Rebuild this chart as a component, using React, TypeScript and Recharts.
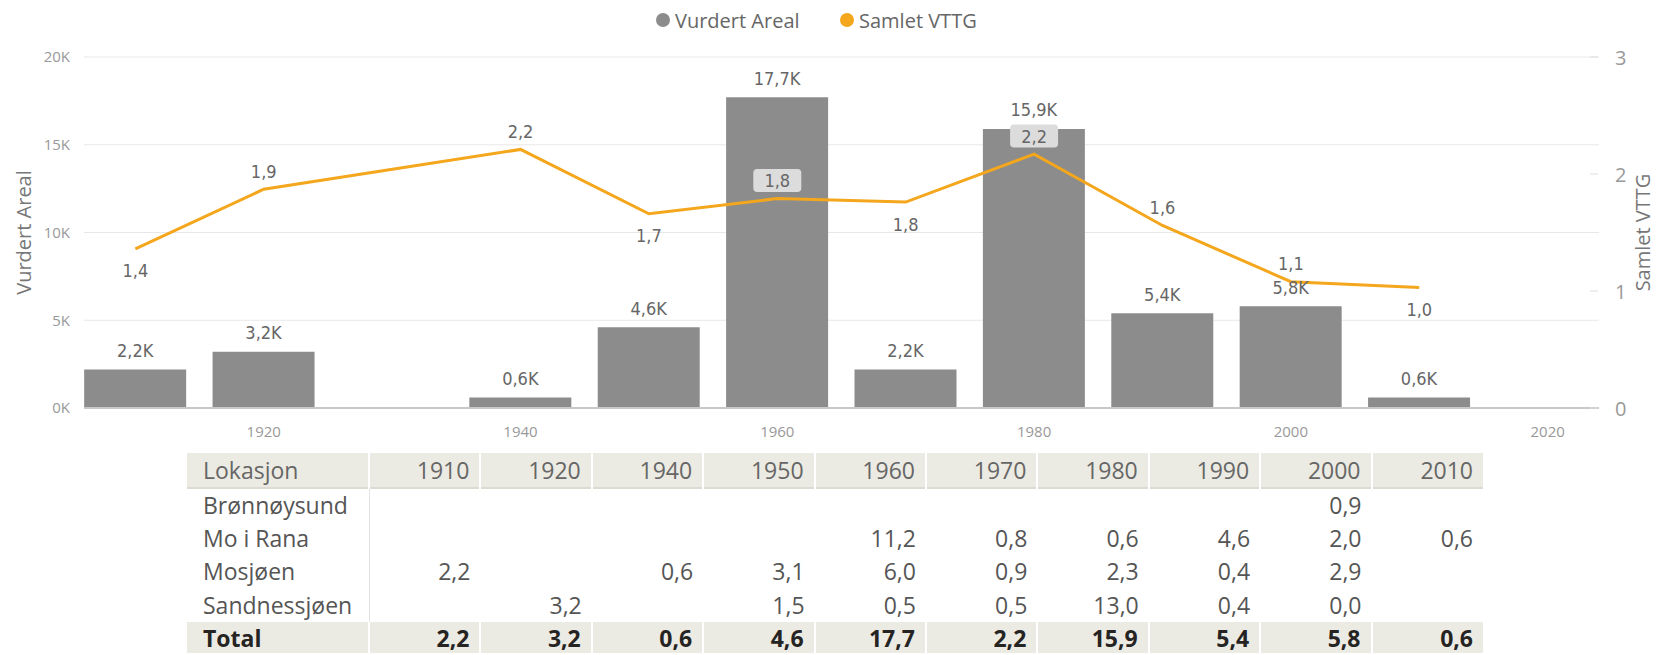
// Vurdert Areal / Samlet VTTG per byggeår – combo chart with matrix below.
import { ComposedChart, Bar, Line, XAxis, YAxis, CartesianGrid, LabelList } from "recharts";

// ── Data ────────────────────────────────────────────────────────────────────

const YEARS = [1910, 1920, 1940, 1950, 1960, 1970, 1980, 1990, 2000, 2010];
const VURDERT_AREAL = [2200, 3200, 600, 4600, 17700, 2200, 15900, 5400, 5800, 600];
const SAMLET_VTTG = [1.36, 1.87, 2.21, 1.66, 1.79, 1.76, 2.17, 1.56, 1.08, 1.03];

const X_TICKS = [1920, 1940, 1960, 1980, 2000, 2020];
const LEFT_TICKS = [0, 5000, 10000, 15000, 20000];
const RIGHT_TICKS = [0, 1, 2, 3];

const LOCATIONS = ["Brønnøysund", "Mo i Rana", "Mosjøen", "Sandnessjøen"];
const BRONNOYSUND = [null, null, null, null, null, null, null, null, 0.9, null];
const MO_I_RANA = [null, null, null, null, 11.2, 0.8, 0.6, 4.6, 2.0, 0.6];
const MOSJOEN = [2.2, null, 0.6, 3.1, 6.0, 0.9, 2.3, 0.4, 2.9, null];
const SANDNESSJOEN = [null, 3.2, null, 1.5, 0.5, 0.5, 13.0, 0.4, 0.0, null];
const TOTALS = [2.2, 3.2, 0.6, 4.6, 17.7, 2.2, 15.9, 5.4, 5.8, 0.6];
const ROWS = [BRONNOYSUND, MO_I_RANA, MOSJOEN, SANDNESSJOEN];

const chartData = YEARS.map((year, i) => ({
  year,
  areal: VURDERT_AREAL[i],
  vttg: SAMLET_VTTG[i],
}));

// ── Styling ─────────────────────────────────────────────────────────────────

const BAR_COLOR = "#8c8c8c";
const LINE_COLOR = "#f4a61d";
const UI_FONT = "'Open Sans', sans-serif";
const LABEL_FONT = "'DejaVu Sans Condensed', 'DejaVu Sans', sans-serif";

const comma = (v: number) => v.toFixed(1).replace(".", ",");

// Power BI places some line labels under the point and boxes those over bars
const LABEL_BELOW = new Set([1910, 1950, 1970, 2010]);
const LABEL_BOXED = new Set([1960, 1980]);

function BarValueLabel(props: any) {
  const { x, y, width, value } = props;
  return (
    <text
      x={x + width / 2} y={y - 19} textAnchor="middle" dominantBaseline="central"
      fontFamily={LABEL_FONT} fontSize={18} fill="#666"
    >
      {comma(value / 1000)}K
    </text>
  );
}

function LineValueLabel(props: any) {
  const { x, y, value, index } = props;
  const year = YEARS[index];
  const cy = LABEL_BELOW.has(year) ? y + 22 : y - 18;
  return (
    <g>
      {LABEL_BOXED.has(year) && (
        <rect x={x - 24} y={cy - 11.5} width={48} height={23} rx={4} fill="#dcdcdc" />
      )}
      <text
        x={x} y={cy} textAnchor="middle" dominantBaseline="central"
        fontFamily={LABEL_FONT} fontSize={18} fill="#666"
      >
        {comma(value)}
      </text>
    </g>
  );
}

function RightTick(props: any) {
  const { x, y, payload } = props;
  return (
    <g>
      <line x1={x - 25} x2={x - 17} y1={y} y2={y} stroke="#dedede" />
      <text x={x} y={y} dominantBaseline="central" fontFamily={UI_FONT} fontSize={20} fill="#999">
        {payload.value}
      </text>
    </g>
  );
}

// ── Legend ──────────────────────────────────────────────────────────────────

function LegendItem({ left, color, text }: { left: number; color: string; text: string }) {
  return (
    <div style={{ position: "absolute", left, top: 6, display: "flex", alignItems: "center", height: 28 }}>
      <span style={{ width: 14, height: 14, borderRadius: 7, background: color, marginRight: 5 }} />
      <span style={{ fontFamily: UI_FONT, fontSize: 20, color: "#666" }}>{text}</span>
    </div>
  );
}

// ── Matrix table ────────────────────────────────────────────────────────────

const HEAD_BG = "#ecebe3";
const cellBase: React.CSSProperties = {
  padding: "0 10px 0 0",
  textAlign: "right",
  whiteSpace: "nowrap",
  lineHeight: 1,
};

function Matrix() {
  return (
    <table
      style={{
        position: "absolute", left: 187, top: 453, width: 1296,
        borderCollapse: "collapse", tableLayout: "fixed",
        fontFamily: UI_FONT, fontSize: 23,
      }}
    >
      <colgroup>
        <col style={{ width: 182 }} />
        {YEARS.map(y => <col key={y} style={{ width: 111.4 }} />)}
      </colgroup>
      <thead>
        <tr style={{ height: 35, background: HEAD_BG, color: "#666", borderBottom: "2px solid #dcdad2" }}>
          <th style={{ ...cellBase, textAlign: "left", paddingLeft: 16, fontWeight: 400 }}>Lokasjon</th>
          {YEARS.map(y => (
            <th key={y} style={{ ...cellBase, fontWeight: 400, borderLeft: "2px solid #fff" }}>{y}</th>
          ))}
        </tr>
      </thead>
      <tbody>
        {LOCATIONS.map((loc, r) => (
          <tr key={loc} style={{ height: 33.5, color: "#555" }}>
            <td style={{ ...cellBase, textAlign: "left", paddingLeft: 16, borderRight: "1px solid #e2e2e2" }}>{loc}</td>
            {ROWS[r].map((v, i) => (
              <td key={i} style={cellBase}>{v == null ? "" : comma(v)}</td>
            ))}
          </tr>
        ))}
        <tr style={{ height: 31, background: HEAD_BG, color: "#252423", fontWeight: 700 }}>
          <td style={{ ...cellBase, textAlign: "left", paddingLeft: 16, paddingTop: 2 }}>Total</td>
          {TOTALS.map((v, i) => (
            <td key={i} style={{ ...cellBase, borderLeft: "2px solid #fff", paddingTop: 2 }}>{comma(v)}</td>
          ))}
        </tr>
      </tbody>
    </table>
  );
}

// ── App ─────────────────────────────────────────────────────────────────────

export default function App() {
  return (
    <div style={{ position: "relative", width: 1661, height: 655, overflow: "hidden", background: "#fff" }}>
      <style>{`body{margin:0}`}</style>
      <LegendItem left={656} color={BAR_COLOR} text="Vurdert Areal" />
      <LegendItem left={840} color={LINE_COLOR} text="Samlet VTTG" />
      <div style={{ position: "absolute", left: 0, top: 0 }}>
        <ComposedChart width={1661} height={450} data={chartData} margin={{ top: 57, right: 0, left: 0, bottom: 12 }}>
          <CartesianGrid vertical={false} stroke="#e8e8e8" />
          <XAxis
            dataKey="year" type="number" domain={[1906, 2024]} ticks={X_TICKS} allowDataOverflow
            height={30} tickLine={false} tickSize={0} tickMargin={18}
            axisLine={{ stroke: "#c8c8c8", strokeWidth: 2 }}
            tick={{ fontFamily: UI_FONT, fontSize: 15, fill: "#999" }}
          />
          <YAxis
            domain={[0, 20000]} ticks={LEFT_TICKS} width={84}
            axisLine={false} tickLine={false} tickSize={6} tickMargin={8}
            tickFormatter={(v: number) => `${v / 1000}K`}
            tick={{ fontFamily: UI_FONT, fontSize: 15, fill: "#999" }}
            label={{
              value: "Vurdert Areal", angle: -90, position: "insideLeft", offset: 24,
              style: { textAnchor: "middle", fontFamily: UI_FONT, fontSize: 20, fill: "#777" },
            }}
          />
          <YAxis
            yAxisId="r" orientation="right" domain={[0, 3]} ticks={RIGHT_TICKS} width={62}
            axisLine={false} tickLine={false} tickSize={0} tickMargin={16}
            tick={<RightTick />}
            label={{
              value: "Samlet VTTG", angle: -90, position: "insideRight", offset: 18,
              style: { textAnchor: "middle", fontFamily: UI_FONT, fontSize: 20, fill: "#777" },
            }}
          />
          <Bar dataKey="areal" fill={BAR_COLOR} barSize={102} isAnimationActive={false}>
            <LabelList dataKey="areal" content={<BarValueLabel />} />
          </Bar>
          <Line
            yAxisId="r" dataKey="vttg" type="linear" stroke={LINE_COLOR} strokeWidth={3}
            dot={false} activeDot={false} isAnimationActive={false}
          >
            <LabelList dataKey="vttg" content={<LineValueLabel />} />
          </Line>
        </ComposedChart>
      </div>
      <Matrix />
    </div>
  );
}
